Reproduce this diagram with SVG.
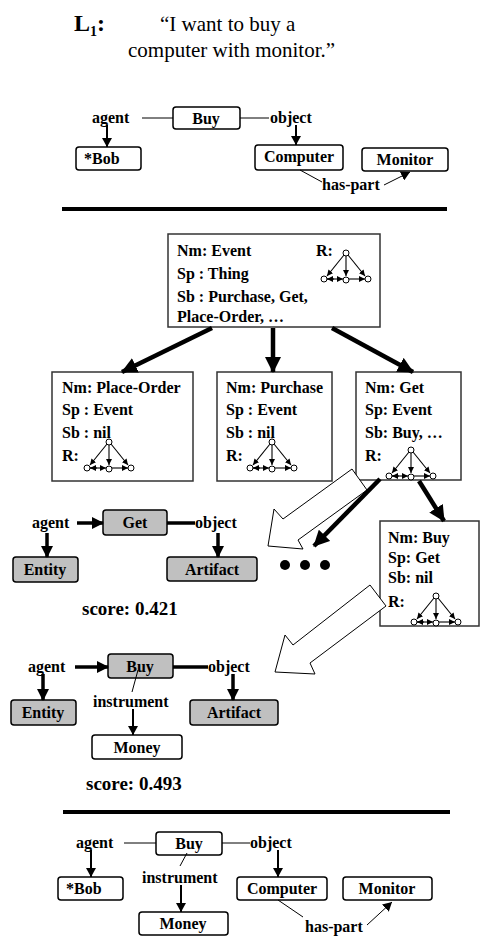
<svg xmlns="http://www.w3.org/2000/svg" xmlns:xlink="http://www.w3.org/1999/xlink" width="482" height="941" viewBox="0 0 482 941">
<style>
text{font-family:"Liberation Serif","Times New Roman",serif;fill:#000}
.t{font-size:16px;font-weight:bold}
.c{text-anchor:middle}
.q{font-size:21px}
.sc{font-size:19px;font-weight:bold}
.box{fill:#fff;stroke:#000;stroke-width:1.5}
.gbox{fill:#c0c0c0;stroke:#000;stroke-width:1.5}
.frame{fill:#fff;stroke:#333;stroke-width:1.5}
.thin{stroke:#000;stroke-width:1;fill:none}
.ln{stroke:#000;stroke-width:2;fill:none}
.thk{stroke:#000;stroke-width:3.5;fill:none}
.big{stroke:#000;stroke-width:4.5;fill:none}
.hollow{fill:#fff;stroke:#000;stroke-width:1}
.sep{stroke:#000;stroke-width:4}
.ic{stroke:#000;stroke-width:1.1;fill:none}
.nd{fill:#fff;stroke:#000;stroke-width:1}
</style>
<defs>
<marker id="a1" markerUnits="userSpaceOnUse" markerWidth="9" markerHeight="10" refX="9" refY="5" orient="auto"><path d="M0,0 L9,5 L0,10 z"/></marker>
<marker id="a2" markerUnits="userSpaceOnUse" markerWidth="12" markerHeight="12" refX="11" refY="6" orient="auto"><path d="M0,0 L12,6 L0,12 z"/></marker>
<marker id="a3" markerUnits="userSpaceOnUse" markerWidth="16" markerHeight="16" refX="15" refY="8" orient="auto"><path d="M0,0 L16,8 L0,16 z"/></marker>
<marker id="a4" markerUnits="userSpaceOnUse" markerWidth="6" markerHeight="6" refX="6" refY="3" orient="auto"><path d="M0,0 L6,3 L0,6 z"/></marker>
<g id="rg">
<line class="ic" x1="-2" y1="2" x2="-19" y2="23" marker-end="url(#a4)"/>
<line class="ic" x1="0" y1="3" x2="0" y2="23" marker-end="url(#a4)"/>
<line class="ic" x1="2" y1="2" x2="19" y2="23" marker-end="url(#a4)"/>
<line class="ic" x1="-19" y1="26" x2="-3" y2="26" marker-end="url(#a4)"/>
<line class="ic" x1="3" y1="26" x2="19" y2="26" marker-end="url(#a4)"/>
<line class="ic" x1="-12" y1="26" x2="-19" y2="26" marker-end="url(#a4)"/>
<circle class="nd" cx="0" cy="0" r="3"/>
<circle class="nd" cx="-22" cy="26" r="3"/>
<circle class="nd" cx="0" cy="27" r="3"/>
<circle class="nd" cx="22" cy="26" r="3"/>
</g>
</defs>
<rect width="482" height="941" fill="#fff"/>

<g id="title">
<text x="74" y="31" style="font-size:24px;font-weight:bold">L<tspan style="font-size:14px" dy="5">1</tspan><tspan dy="-5">:</tspan></text>
<text class="q" x="160" y="31">“I want to buy a</text>
<text class="q" x="128" y="57">computer with monitor.”</text>
</g>

<!-- top graph -->
<g id="g1-buy"><rect class="box" x="173" y="107" width="67" height="22" rx="3"/><text class="t c" x="206" y="124">Buy</text></g>
<g id="g1-agent"><text class="t" x="92" y="123">agent</text></g>
<g id="g1-object"><text class="t" x="270" y="123">object</text></g>
<g id="g1-bob"><rect class="box" x="76" y="147" width="65" height="23" rx="3"/><text class="t" x="84" y="164">*Bob</text></g>
<g id="g1-computer"><rect class="box" x="255" y="145" width="88" height="25" rx="3"/><text class="t c" x="299" y="162">Computer</text></g>
<g id="g1-monitor"><rect class="box" x="362" y="148" width="86" height="23" rx="3"/><text class="t c" x="405" y="165">Monitor</text></g>
<g id="g1-haspart"><text class="t" x="322" y="190">has-part</text></g>

<line class="sep" x1="62" y1="209" x2="447" y2="209"/>

<!-- frames -->
<g id="f-event">
<rect class="frame" x="168" y="234" width="212" height="93"/>
<text class="t" x="177" y="256">Nm: Event</text>
<text class="t" x="316" y="256">R:</text>
<text class="t" x="177" y="279">Sp : Thing</text>
<text class="t" x="177" y="302">Sb : Purchase, Get,</text>
<text class="t" x="177" y="322">Place-Order, …</text>
<use xlink:href="#rg" href="#rg" x="346" y="253"/>
</g>
<g id="f-placeorder">
<rect class="frame" x="52" y="372" width="141" height="109"/>
<text class="t" x="62" y="393">Nm: Place-Order</text>
<text class="t" x="62" y="415">Sp : Event</text>
<text class="t" x="62" y="438">Sb : nil</text>
<text class="t" x="62" y="461">R:</text>
<use xlink:href="#rg" href="#rg" x="109" y="442"/>
</g>
<g id="f-purchase">
<rect class="frame" x="217" y="372" width="115" height="109"/>
<text class="t" x="226" y="393">Nm: Purchase</text>
<text class="t" x="226" y="415">Sp : Event</text>
<text class="t" x="226" y="438">Sb : nil</text>
<text class="t" x="226" y="461">R:</text>
<use xlink:href="#rg" href="#rg" x="272" y="442"/>
</g>
<g id="f-get">
<rect class="frame" x="356" y="372" width="105" height="108"/>
<text class="t" x="365" y="393">Nm: Get</text>
<text class="t" x="365" y="415">Sp: Event</text>
<text class="t" x="365" y="438">Sb: Buy, …</text>
<text class="t" x="365" y="461">R:</text>
<use xlink:href="#rg" href="#rg" x="411" y="450"/>
</g>
<g id="f-buy">
<rect class="frame" x="380" y="521" width="99" height="105"/>
<text class="t" x="388" y="543">Nm: Buy</text>
<text class="t" x="388" y="563">Sp: Get</text>
<text class="t" x="388" y="583">Sb: nil</text>
<text class="t" x="388" y="607">R:</text>
<use xlink:href="#rg" href="#rg" x="436" y="596"/>
</g>

<g id="hollow-arrows">
<polygon class="hollow" points="352,469 283,519 274,509 268,546 303,549 298,540 367,490"/>
<polygon class="hollow" points="370,585 293,645 285,635 275,672 315,674 310,663 386,606"/>
</g>

<g id="dots">
<circle cx="285" cy="565" r="5"/><circle cx="305" cy="565" r="5"/><circle cx="325" cy="565" r="5"/>
</g>

<!-- Get graph -->
<g id="g2-get"><rect class="gbox" x="103" y="510" width="64" height="25" rx="3"/><text class="t c" x="135" y="528">Get</text></g>
<g id="g2-agent"><text class="t" x="32" y="528">agent</text></g>
<g id="g2-object"><text class="t" x="195" y="528">object</text></g>
<g id="g2-entity"><rect class="gbox" x="13" y="557" width="65" height="25" rx="3"/><text class="t c" x="45" y="575">Entity</text></g>
<g id="g2-artifact"><rect class="gbox" x="167" y="557" width="90" height="24" rx="3"/><text class="t c" x="212" y="575">Artifact</text></g>
<g id="score1"><text class="sc" x="82" y="615">score: 0.421</text></g>

<!-- Buy graph -->
<g id="g3-buy"><rect class="gbox" x="108" y="654" width="65" height="24" rx="3"/><text class="t c" x="140" y="672">Buy</text></g>
<g id="g3-agent"><text class="t" x="28" y="672">agent</text></g>
<g id="g3-object"><text class="t" x="208" y="672">object</text></g>
<g id="g3-instrument"><text class="t" x="93" y="707">instrument</text></g>
<g id="g3-entity"><rect class="gbox" x="11" y="700" width="65" height="25" rx="3"/><text class="t c" x="43" y="718">Entity</text></g>
<g id="g3-artifact"><rect class="gbox" x="190" y="700" width="88" height="25" rx="3"/><text class="t c" x="234" y="718">Artifact</text></g>
<g id="g3-money"><rect class="box" x="92" y="735" width="90" height="24" rx="3"/><text class="t c" x="137" y="753">Money</text></g>
<g id="score2"><text class="sc" x="86" y="790">score: 0.493</text></g>

<line class="sep" x1="63" y1="812" x2="450" y2="812"/>

<!-- bottom graph -->
<g id="g4-buy"><rect class="box" x="156" y="832" width="66" height="23" rx="3"/><text class="t c" x="189" y="849">Buy</text></g>
<g id="g4-agent"><text class="t" x="76" y="848">agent</text></g>
<g id="g4-object"><text class="t" x="250" y="848">object</text></g>
<g id="g4-instrument"><text class="t" x="142" y="883">instrument</text></g>
<g id="g4-bob"><rect class="box" x="58" y="877" width="65" height="23" rx="3"/><text class="t" x="66" y="894">*Bob</text></g>
<g id="g4-money"><rect class="box" x="139" y="912" width="89" height="23" rx="3"/><text class="t c" x="183" y="929">Money</text></g>
<g id="g4-computer"><rect class="box" x="237" y="877" width="90" height="23" rx="3"/><text class="t c" x="282" y="894">Computer</text></g>
<g id="g4-monitor"><rect class="box" x="343" y="877" width="89" height="23" rx="3"/><text class="t c" x="387" y="894">Monitor</text></g>
<g id="g4-haspart"><text class="t" x="305" y="932">has-part</text></g>

<g id="connectors">
<line class="thin" x1="142" y1="118" x2="173" y2="118"/>
<line class="thin" x1="240" y1="118" x2="269" y2="118"/>
<line class="ln" x1="107" y1="125" x2="107" y2="147" marker-end="url(#a1)"/>
<line class="ln" x1="296" y1="125" x2="296" y2="145" marker-end="url(#a1)"/>
<line class="thin" x1="300" y1="170" x2="322" y2="182"/>
<line class="thin" x1="384" y1="185" x2="410" y2="172" marker-end="url(#a1)"/>
<line class="big" x1="212" y1="328" x2="122" y2="372" marker-end="url(#a3)"/>
<line class="big" x1="273" y1="328" x2="273" y2="372" marker-end="url(#a3)"/>
<line class="big" x1="332" y1="328" x2="413" y2="372" marker-end="url(#a3)"/>
<line class="big" x1="380" y1="479" x2="314" y2="546" marker-end="url(#a3)"/>
<line class="big" x1="419" y1="481" x2="444" y2="521" marker-end="url(#a3)"/>
<line class="thk" x1="77" y1="523" x2="103" y2="523" marker-end="url(#a2)"/>
<line class="thk" x1="167" y1="523" x2="195" y2="523"/>
<line class="thk" x1="47" y1="533" x2="47" y2="557" marker-end="url(#a2)"/>
<line class="thk" x1="218" y1="533" x2="218" y2="557" marker-end="url(#a2)"/>
<line class="thk" x1="75" y1="667" x2="108" y2="667" marker-end="url(#a2)"/>
<line class="thk" x1="173" y1="667" x2="208" y2="667"/>
<line class="thk" x1="43" y1="674" x2="43" y2="700" marker-end="url(#a2)"/>
<line class="thk" x1="233" y1="674" x2="233" y2="700" marker-end="url(#a2)"/>
<line class="thin" x1="138" y1="670" x2="132" y2="692"/>
<line class="ln" x1="133" y1="709" x2="133" y2="735" marker-end="url(#a1)"/>
<line class="thin" x1="124" y1="843" x2="156" y2="843"/>
<line class="thin" x1="222" y1="843" x2="250" y2="843"/>
<line class="ln" x1="91" y1="850" x2="91" y2="877" marker-end="url(#a1)"/>
<line class="ln" x1="278" y1="850" x2="278" y2="877" marker-end="url(#a1)"/>
<line class="thin" x1="187" y1="853" x2="180" y2="866"/>
<line class="ln" x1="181" y1="885" x2="181" y2="912" marker-end="url(#a1)"/>
<line class="thin" x1="278" y1="900" x2="303" y2="917"/>
<line class="thin" x1="367" y1="925" x2="392" y2="902" marker-end="url(#a1)"/>
</g>
</svg>
